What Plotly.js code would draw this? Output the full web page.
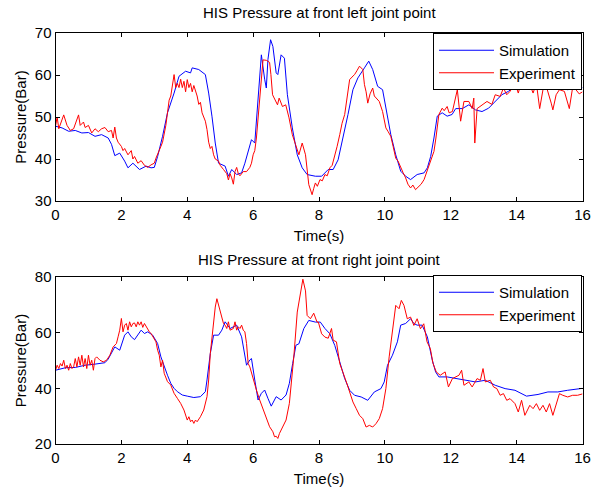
<!DOCTYPE html>
<html>
<head>
<meta charset="utf-8">
<script src="https://cdn.plot.ly/plotly-3.0.1.min.js"></script>
<style>html,body{margin:0;padding:0;background:#fff;}#chart{width:592px;height:492px;}</style>
</head>
<body>
<div id="chart"></div>
<script>
// ---- Top panel: front left joint point ----
var topSimT = [0,0.2,0.4,0.6,0.8,1.0,1.2,1.4,1.6,1.7,1.8,1.95,2.1,2.2,2.35,2.55,2.75,2.9,3.0,3.1,3.25,3.4,3.6,3.75,3.95,4.1,4.15,4.35,4.55,4.65,4.75,4.85,4.95,5.15,5.25,5.35,5.5,5.65,5.75,5.95,6.05,6.1,6.2,6.25,6.35,6.4,6.45,6.53,6.6,6.7,6.75,6.85,6.95,7.04,7.19,7.34,7.49,7.64,7.89,8.08,8.28,8.43,8.58,8.73,8.88,9.03,9.18,9.38,9.51,9.63,9.78,9.93,10.03,10.18,10.33,10.48,10.63,10.78,10.98,11.19,11.29,11.39,11.49,11.59,11.74,11.89,12.04,12.15,12.35,12.55,12.75,12.95,13.15,13.35,13.55,13.75,13.95,14.15,14.35,14.65,14.95,15.25,15.55,15.85,16];
var topSimV = [47.8,47.4,46.6,46.8,46.2,46.3,45.4,45.8,45.0,43.5,40.8,41.4,39.5,37.9,39.0,37.5,38.3,37.9,38.0,40.6,45.4,51.0,55.7,59.7,60.9,60.5,61.7,61.3,60.1,55.7,50.2,43.8,39.0,38.3,35.9,37.5,36.3,36.7,39.0,44.6,43.8,49.4,58.1,64.8,59.0,56.9,63.7,68.4,66.8,60.5,60.1,64.8,64.0,55.3,47.4,41.0,37.9,36.3,35.9,35.9,37.5,37.5,39.8,45.0,50.6,56.5,59.3,61.7,63.3,61.3,57.3,56.5,52.1,45.8,41.0,37.1,35.9,35.1,36.3,36.7,37.9,40.6,45.0,50.2,51.0,50.2,50.6,52.0,52.0,52.9,51.7,51.3,52.1,53.7,55.3,56.1,57.3,56.9,57.3,57.0,57.7,56.9,56.5,56.9,57.0];

var topExpT = [0,0.05,0.1,0.15,0.25,0.35,0.45,0.55,0.6,0.7,0.75,0.85,0.9,1.0,1.1,1.2,1.3,1.4,1.5,1.6,1.7,1.75,1.8,1.85,1.9,2.0,2.05,2.1,2.2,2.3,2.35,2.4,2.5,2.6,2.7,2.8,2.9,3.0,3.05,3.1,3.2,3.25,3.3,3.35,3.4,3.45,3.5,3.55,3.6,3.65,3.7,3.75,3.8,3.85,3.9,3.95,4.0,4.05,4.1,4.15,4.2,4.3,4.35,4.4,4.45,4.5,4.55,4.6,4.65,4.7,4.75,4.8,4.85,4.95,5.0,5.1,5.2,5.25,5.3,5.35,5.4,5.45,5.5,5.55,5.6,5.7,5.8,5.9,5.95,6.0,6.05,6.1,6.15,6.2,6.25,6.3,6.4,6.5,6.54,6.59,6.74,6.79,6.89,6.99,7.09,7.19,7.29,7.39,7.49,7.59,7.69,7.79,7.84,7.89,7.95,8.03,8.1,8.18,8.25,8.33,8.4,8.48,8.55,8.63,8.7,8.78,8.85,8.93,9.0,9.08,9.15,9.23,9.33,9.38,9.43,9.48,9.55,9.63,9.68,9.73,9.83,9.93,10.03,10.1,10.18,10.25,10.33,10.4,10.48,10.55,10.63,10.7,10.78,10.85,10.93,11.03,11.1,11.19,11.25,11.34,11.4,11.49,11.55,11.64,11.74,11.8,11.89,11.95,12.05,12.2,12.3,12.4,12.55,12.65,12.7,12.73,12.8,12.95,13.1,13.25,13.35,13.5,13.6,13.7,13.8,13.95,14.05,14.15,14.25,14.4,14.5,14.6,14.7,14.8,14.9,15.05,15.1,15.2,15.3,15.45,15.6,15.7,15.8,15.9,16];
var topExpV = [47.8,50.0,47.2,48.2,50.5,48.0,46.8,47.2,48.2,50.5,48.0,48.8,47.5,48.0,46.2,47.2,46.5,47.2,47.5,46.5,46.8,45.0,47.6,45.0,44.0,43.0,42.0,42.5,41.0,42.0,40.0,40.6,39.0,39.6,38.5,38.0,38.6,39.0,40.2,41.0,43.0,44.0,46.0,48.0,51.0,54.0,55.0,58.0,60.1,57.0,58.0,57.0,59.0,57.0,58.5,56.0,58.9,57.0,58.0,56.0,57.5,55.0,53.0,53.5,51.0,50.0,49.0,47.0,44.0,42.5,43.0,41.0,40.0,39.5,38.5,37.5,36.5,35.0,36.5,35.5,34.0,37.0,38.0,36.5,36.0,37.0,37.0,38.0,39.0,41.0,42.0,45.0,50.0,55.0,60.0,63.6,63.5,63.0,60.1,55.3,52.9,54.5,52.5,52.9,49.8,45.8,43.4,41.0,43.8,41.0,33.9,31.5,33.0,34.3,33.5,35.1,34.8,36.3,36.0,37.9,38.5,40.6,43.0,45.8,48.5,50.6,54.0,58.9,59.5,60.1,61.0,62.1,61.3,57.7,56.0,53.3,55.5,56.9,55.0,54.5,53.7,51.3,47.4,46.5,45.4,43.0,40.2,39.5,37.9,36.8,35.5,34.0,33.1,33.8,32.7,33.5,34.0,35.1,36.5,38.3,39.5,41.8,45.0,50.6,52.1,51.5,52.5,51.0,51.3,56.5,49.0,53.7,53.7,52.0,54.5,43.8,52.0,52.9,53.7,53.0,55.3,54.9,56.9,55.3,56.1,58.1,55.7,58.5,56.5,57.7,55.7,58.0,52.0,56.5,57.3,53.3,51.7,55.3,56.5,56.1,52.0,57.0,56.5,55.5,56.0];

// ---- Bottom panel: front right joint point ----
var botSimT = [0,0.3,0.6,0.9,1.2,1.5,1.6,1.7,1.8,1.95,2.1,2.2,2.3,2.4,2.5,2.6,2.7,2.8,2.95,3.1,3.2,3.3,3.4,3.5,3.6,3.7,3.85,4.0,4.2,4.4,4.55,4.6,4.7,4.8,4.95,5.05,5.15,5.3,5.5,5.65,5.8,5.9,5.95,6.05,6.15,6.25,6.35,6.45,6.55,6.7,6.85,7.0,7.1,7.2,7.3,7.39,7.54,7.69,7.89,8.04,8.18,8.33,8.48,8.63,8.78,8.93,9.08,9.28,9.48,9.68,9.88,9.98,10.08,10.23,10.38,10.48,10.63,10.78,10.88,10.98,11.13,11.29,11.44,11.54,11.64,11.89,12.15,12.45,12.75,13.05,13.35,13.65,13.95,14.3,14.65,14.95,15.25,15.55,15.85,16];
var botSimV = [46.5,47.4,47.5,48.3,48.7,49.2,50.5,52.5,54.9,53.7,59.1,60.3,58.5,57.5,59.1,60.9,59.7,60.3,59.1,56.1,51.3,47.7,44.7,41.8,40.0,38.8,37.6,37.2,36.7,37.0,38.8,43.0,52.5,59.1,59.1,60.9,63.9,61.5,62.7,58.5,48.3,50.2,50.7,43.0,35.8,38.2,39.4,36.4,33.6,37.0,35.8,37.6,41.8,48.9,55.5,56.0,61.5,64.4,63.8,63.8,61.5,59.6,55.4,49.5,43.5,39.3,37.5,36.9,35.7,38.7,39.9,42.3,48.3,51.9,56.7,62.7,63.3,65.0,63.3,62.7,62.7,58.5,50.1,45.9,44.1,44.1,43.5,42.9,42.3,42.9,41.1,39.9,39.3,37.2,37.8,38.7,38.7,39.3,39.6,40.0];

var botExpT = [0,0.05,0.1,0.15,0.2,0.25,0.3,0.35,0.4,0.45,0.5,0.55,0.6,0.65,0.7,0.75,0.8,0.85,0.9,0.95,1.0,1.05,1.1,1.15,1.2,1.25,1.35,1.45,1.55,1.65,1.75,1.85,1.9,1.95,2.0,2.05,2.1,2.15,2.2,2.25,2.3,2.35,2.4,2.45,2.5,2.55,2.6,2.65,2.7,2.75,2.8,2.85,2.9,3.0,3.05,3.1,3.15,3.2,3.25,3.3,3.35,3.4,3.5,3.6,3.7,3.8,3.9,4.0,4.05,4.1,4.15,4.2,4.25,4.3,4.4,4.5,4.6,4.65,4.7,4.75,4.8,4.85,4.9,4.95,5.0,5.05,5.1,5.15,5.2,5.25,5.3,5.4,5.45,5.5,5.55,5.6,5.65,5.7,5.75,5.8,5.85,5.9,6.0,6.1,6.2,6.3,6.4,6.5,6.6,6.65,6.7,6.75,6.8,6.9,7.0,7.1,7.15,7.2,7.24,7.34,7.45,7.51,7.59,7.64,7.74,7.84,7.94,7.98,8.08,8.18,8.28,8.38,8.43,8.53,8.63,8.73,8.83,8.93,9.03,9.13,9.23,9.33,9.43,9.53,9.63,9.73,9.83,9.93,10.03,10.13,10.23,10.33,10.43,10.5,10.58,10.68,10.78,10.88,10.98,11.08,11.18,11.28,11.38,11.46,11.56,11.68,11.83,11.93,12.05,12.25,12.33,12.4,12.55,12.65,12.8,12.9,12.98,13.05,13.2,13.3,13.4,13.5,13.6,13.7,13.8,13.95,14.05,14.15,14.25,14.4,14.5,14.6,14.7,14.8,14.9,15.0,15.1,15.2,15.3,15.4,15.55,15.7,15.85,16];
var botExpV = [46.5,48.3,47.1,48.9,48.0,50.1,47.1,48.3,46.5,48.9,47.1,47.7,50.7,47.7,51.3,48.3,51.9,47.7,50.7,47.1,51.9,48.3,50.1,46.5,50.7,51.3,50.1,49.5,50.1,51.9,54.9,56.1,58.5,60.9,65.1,60.3,62.7,63.3,60.9,63.9,62.1,63.3,63.5,62.1,63.9,62.7,63.9,61.9,63.3,62.1,61.5,60.3,59.7,57.3,56.7,53.7,51.9,47.7,50.1,45.4,44.2,42.4,41.2,38.2,36.4,34.6,32.2,28.6,29.8,28.0,28.6,27.4,28.6,28.0,29.8,32.2,37.0,43.0,52.5,58.5,63.3,69.2,72.2,69.8,68.1,65.7,63.3,62.7,61.5,63.9,60.9,61.5,63.9,60.9,62.1,61.5,62.7,60.9,60.3,56.1,48.9,47.7,43.0,39.4,35.8,32.8,29.8,26.2,24.4,22.6,22.8,22.0,23.8,26.2,28.6,34.6,40.6,47.7,52.0,67.4,75.0,79.2,75.0,66.2,65.0,67.0,63.8,63.8,59.6,58.4,58.0,61.5,57.3,56.7,48.9,45.9,42.3,38.7,35.1,32.7,30.3,29.1,26.1,26.7,26.1,27.3,29.1,32.7,39.9,51.3,61.4,69.8,68.6,71.6,69.8,65.0,65.6,62.6,65.0,61.4,63.2,56.7,54.3,49.0,45.9,44.7,45.9,40.5,43.5,44.7,46.5,41.1,42.3,40.5,43.5,42.9,47.1,42.3,42.9,40.5,39.9,37.5,38.1,35.7,36.3,34.5,31.5,35.7,30.3,33.9,32.7,34.5,32.1,33.9,31.5,34.5,30.3,34.5,38.1,37.5,36.9,37.5,37.5,38.0];

var seriesNames = ["Simulation", "Experiment"];
var panelTitles = ["HIS Pressure at front left joint point", "HIS Pressure at front right joint point"];
var xTicks = [0,2,4,6,8,10,12,14,16];
var yTicksTop = [30,40,50,60,70];
var yTicksBot = [20,40,60,80];

var pairs = [[topSimT,topSimV,'topSim'],[topExpT,topExpV,'topExp'],[botSimT,botSimV,'botSim'],[botExpT,botExpV,'botExp']];
pairs.forEach(function(p){ if (p[0].length !== p[1].length) throw new Error(p[2]+' length mismatch: '+p[0].length+' vs '+p[1].length); });

var FONT = "Liberation Sans, Arial, sans-serif";
var W = 592, H = 492;
var xDom = [55.5/W, 582.5/W];
var yDomTop = [1-201/H, 1-33/H];
var yDomBot = [1-444/H, 1-277/H];

var traces = [
  {x: topSimT, y: topSimV, name: seriesNames[0], type:'scatter', mode:'lines', line:{color:'#0000ff', width:1}, xaxis:'x', yaxis:'y', legend:'legend'},
  {x: topExpT, y: topExpV, name: seriesNames[1], type:'scatter', mode:'lines', line:{color:'#ff0000', width:1}, xaxis:'x', yaxis:'y', legend:'legend'},
  {x: botSimT, y: botSimV, name: seriesNames[0], type:'scatter', mode:'lines', line:{color:'#0000ff', width:1}, xaxis:'x2', yaxis:'y2', legend:'legend2'},
  {x: botExpT, y: botExpV, name: seriesNames[1], type:'scatter', mode:'lines', line:{color:'#ff0000', width:1}, xaxis:'x2', yaxis:'y2', legend:'legend2'}
];

function xa(anchor){
  return {domain:xDom, anchor:anchor, range:[0,16], tickvals:xTicks, ticktext:xTicks.map(String),
    ticks:'inside', ticklen:4, tickcolor:'#000', showline:true, linecolor:'#000', linewidth:1, mirror:'ticks',
    showgrid:false, zeroline:false, tickfont:{family:FONT, size:15, color:'#000'}, ticklabeloverflow:'allow',
    title:{text:'Time(s)', font:{family:FONT, size:15, color:'#000'}, standoff:8}, automargin:false};
}
function ya(anchor, dom, rng, tv){
  return {domain:dom, anchor:anchor, range:rng, tickvals:tv, ticktext:tv.map(String),
    ticks:'inside', ticklen:4, tickcolor:'#000', showline:true, linecolor:'#000', linewidth:1, mirror:'ticks',
    showgrid:false, zeroline:false, tickfont:{family:FONT, size:15, color:'#000'}, ticklabeloverflow:'allow',
    title:{text:'Pressure(Bar)', font:{family:FONT, size:15, color:'#000'}, standoff:4}, automargin:false};
}
function leg(ytop){
  return {x:582/W, xanchor:'right', y:ytop, yanchor:'top', bgcolor:'#fff', bordercolor:'#000', borderwidth:1,
    font:{family:FONT, size:15, color:'#000'}, tracegroupgap:0, itemwidth:55};
}

var layout = {
  width:W, height:H, margin:{l:0, r:0, t:0, b:0},
  paper_bgcolor:'#fff', plot_bgcolor:'#fff', showlegend:true,
  xaxis: xa('y'), yaxis: ya('x', yDomTop, [30,70], yTicksTop),
  xaxis2: xa('y2'), yaxis2: ya('x2', yDomBot, [20,80], yTicksBot),
  legend: leg(1-33/H), legend2: leg(1-275/H),
  annotations:[
    {text:panelTitles[0], xref:'paper', yref:'paper', x:(xDom[0]+xDom[1])/2, y:1-13/H, xanchor:'center', yanchor:'middle', showarrow:false, font:{family:FONT, size:15, color:'#000'}},
    {text:panelTitles[1], xref:'paper', yref:'paper', x:(xDom[0]+xDom[1])/2, y:1-259/H, xanchor:'center', yanchor:'middle', showarrow:false, font:{family:FONT, size:15, color:'#000'}}
  ]
};

Plotly.newPlot('chart', traces, layout, {displayModeBar:false, staticPlot:true});
</script>
</body>
</html>
